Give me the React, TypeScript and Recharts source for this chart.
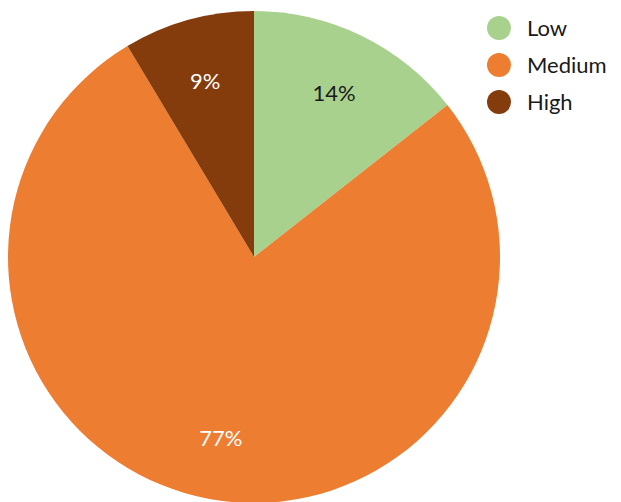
import { PieChart, Pie, Cell, Legend } from 'recharts';

const LABELS = ['Low', 'Medium', 'High'];
const VALUES = [14.4, 77, 8.6];
const COLORS = ['#a9d18e', '#ed7d31', '#843c0c'];
const LABEL_COLORS = ['#1a1a1a', '#ffffff', '#ffffff'];

const data = LABELS.map((name, i) => ({ name, value: VALUES[i] }));

const RAD = Math.PI / 180;

function renderLabel(props: any) {
  const { cx, cy, midAngle, outerRadius, index, value } = props;
  const r = outerRadius * 0.745;
  const x = cx + r * Math.cos(-midAngle * RAD);
  const y = cy + r * Math.sin(-midAngle * RAD);
  return (
    <text x={x} y={y} fill={LABEL_COLORS[index]} textAnchor="middle" dominantBaseline="central"
      style={{ fontFamily: 'Lato, sans-serif', fontSize: 22 }}>
      {`${Math.round(value)}%`}
    </text>
  );
}

function LegendBox() {
  return (
    <div style={{ fontFamily: 'Lato, sans-serif', fontSize: 22, color: '#1a1a1a' }}>
      {data.map((d, i) => (
        <div key={d.name} style={{ display: 'flex', alignItems: 'center', height: 37 }}>
          <span style={{
            width: 24, height: 24, borderRadius: '50%', background: COLORS[i],
            display: 'inline-block', marginRight: 16,
          }} />
          <span>{d.name}</span>
        </div>
      ))}
    </div>
  );
}

export default function App() {
  return (
    <div style={{ position: 'absolute', left: 0, top: 0, width: 621, height: 502, background: '#fff' }}>
      <PieChart width={621} height={502} margin={{ top: 0, right: 0, bottom: 0, left: 0 }}>
        <Pie data={data} dataKey="value" cx={254} cy={257} outerRadius={246}
          startAngle={90} endAngle={-270} stroke="none" labelLine={false}
          label={renderLabel} isAnimationActive={false}>
          {data.map((_, i) => <Cell key={`c-${i}`} fill={COLORS[i]} />)}
        </Pie>
        <Legend layout="vertical" align="right" verticalAlign="top" content={() => <LegendBox />}
          wrapperStyle={{ left: 487, top: 9, width: 134 }} />
      </PieChart>
    </div>
  );
}
